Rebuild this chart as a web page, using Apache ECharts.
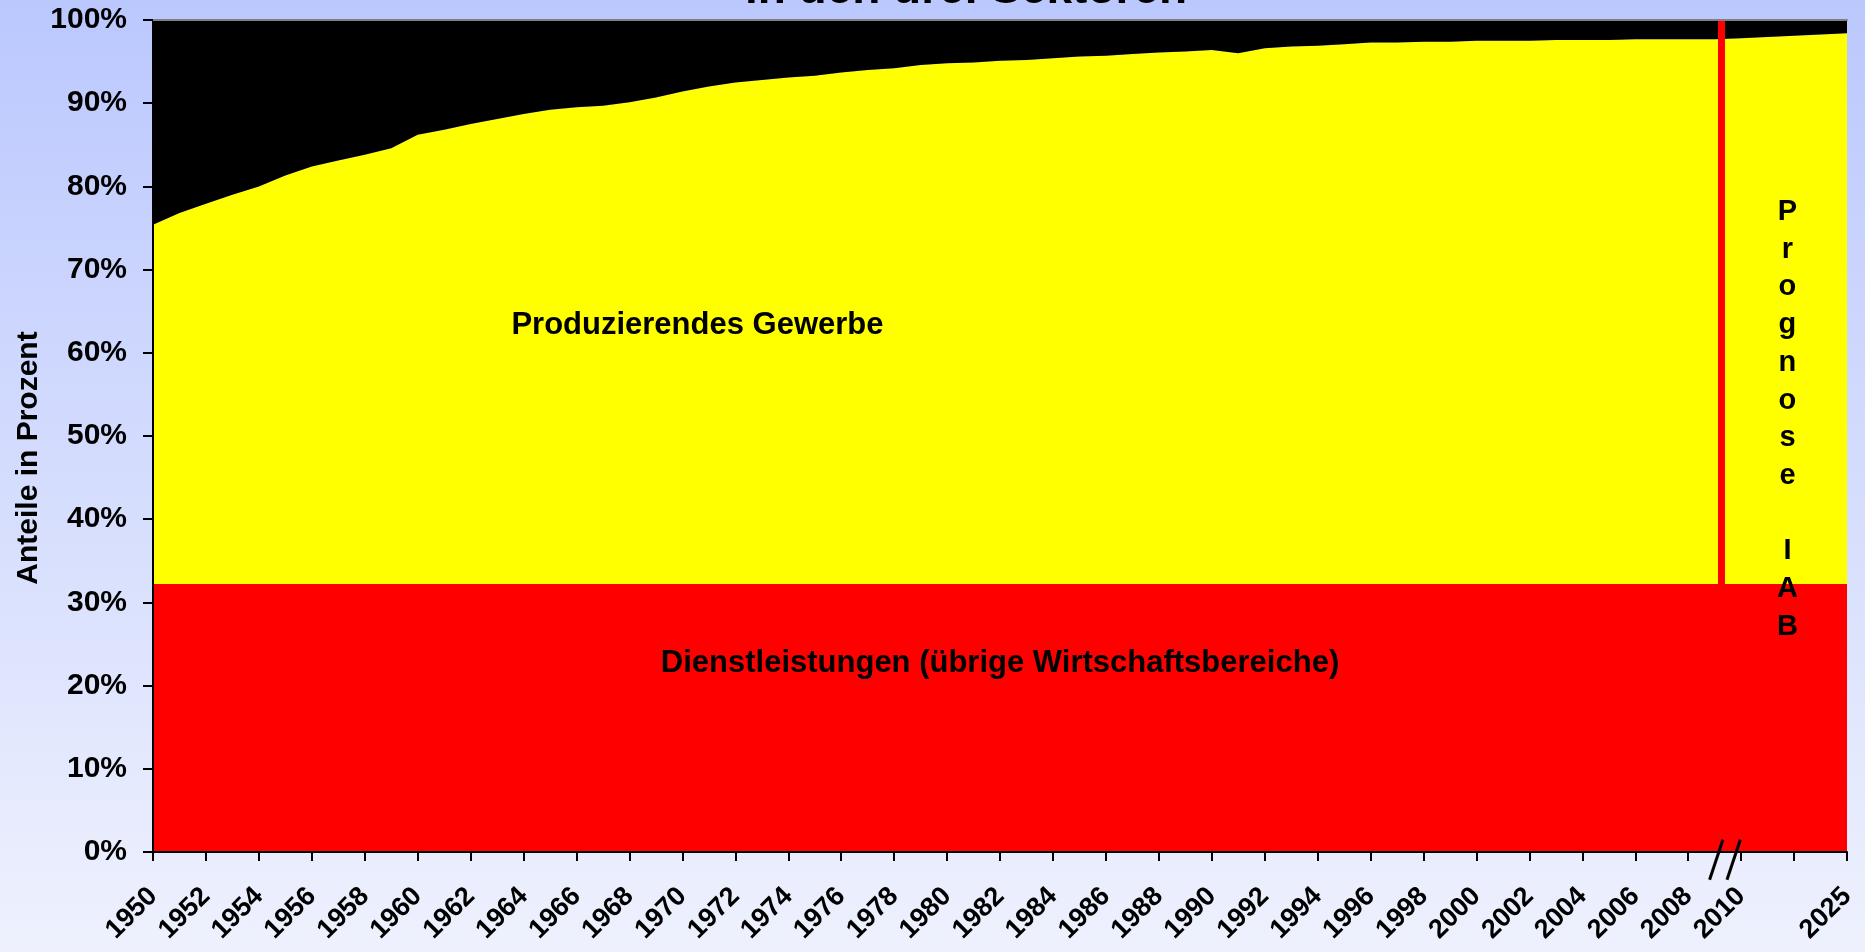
<!DOCTYPE html>
<html>
<head>
<meta charset="utf-8">
<title>Erwerbstätige in den drei Sektoren</title>
<script src="https://cdn.jsdelivr.net/npm/echarts@6/dist/echarts.min.js"></script>
<style>
  html, body { margin: 0; padding: 0; }
  #chart {
    width: 1865px;
    height: 952px;
    background: linear-gradient(to bottom, #bbc8fe 0%, #eef1fd 100%);
  }
</style>
</head>
<body>
<div id="chart"></div>
<script>
// Rubriken der x-Achse (zwischen 2010 und der Prognose 2025 leer)
const rubriken = [
  '1950', '1951', '1952', '1953', '1954', '1955', '1956', '1957', '1958', '1959',
  '1960', '1961', '1962', '1963', '1964', '1965', '1966', '1967', '1968', '1969',
  '1970', '1971', '1972', '1973', '1974', '1975', '1976', '1977', '1978', '1979',
  '1980', '1981', '1982', '1983', '1984', '1985', '1986', '1987', '1988', '1989',
  '1990', '1991', '1992', '1993', '1994', '1995', '1996', '1997', '1998', '1999',
  '2000', '2001', '2002', '2003', '2004', '2005', '2006', '2007', '2008', '2009',
  '2010', '', '', '', '2025',
]

// Jahre mit Werten
const jahre = [
  '1950', '1951', '1952', '1953', '1954', '1955', '1956', '1957', '1958', '1959',
  '1960', '1961', '1962', '1963', '1964', '1965', '1966', '1967', '1968', '1969',
  '1970', '1971', '1972', '1973', '1974', '1975', '1976', '1977', '1978', '1979',
  '1980', '1981', '1982', '1983', '1984', '1985', '1986', '1987', '1988', '1989',
  '1990', '1991', '1992', '1993', '1994', '1995', '1996', '1997', '1998', '1999',
  '2000', '2001', '2002', '2003', '2004', '2005', '2006', '2007', '2008', '2009',
  '2010', '2025',
]

// Anteile in Prozent
const dienstleistungen = [
  32.2, 32.2, 32.2, 32.2, 32.2, 32.2, 32.2, 32.2, 32.2, 32.2,
  32.2, 32.2, 32.2, 32.2, 32.2, 32.2, 32.2, 32.2, 32.2, 32.2,
  32.2, 32.2, 32.2, 32.2, 32.2, 32.2, 32.2, 32.2, 32.2, 32.2,
  32.2, 32.2, 32.2, 32.2, 32.2, 32.2, 32.2, 32.2, 32.2, 32.2,
  32.2, 32.2, 32.2, 32.2, 32.2, 32.2, 32.2, 32.2, 32.2, 32.2,
  32.2, 32.2, 32.2, 32.2, 32.2, 32.2, 32.2, 32.2, 32.2, 32.2,
  32.2, 32.2,
]
const produzierend = [
  43.2, 44.6, 45.7, 46.8, 47.8, 49.1, 50.2, 50.9, 51.6, 52.4,
  54.0, 54.6, 55.3, 55.9, 56.5, 57.0, 57.3, 57.5, 57.9, 58.5,
  59.2, 59.8, 60.3, 60.6, 60.9, 61.1, 61.5, 61.8, 62.0, 62.4,
  62.6, 62.7, 62.9, 63.0, 63.2, 63.4, 63.5, 63.7, 63.9, 64.0,
  64.2, 63.8, 64.4, 64.6, 64.7, 64.9, 65.1, 65.1, 65.2, 65.2,
  65.3, 65.3, 65.3, 65.4, 65.4, 65.4, 65.5, 65.5, 65.5, 65.5,
  65.6, 66.2,
]
const landwirtschaft = [
  24.6, 23.2, 22.1, 21.0, 20.0, 18.7, 17.6, 16.9, 16.2, 15.4,
  13.8, 13.2, 12.5, 11.9, 11.3, 10.8, 10.5, 10.3, 9.9, 9.3,
  8.6, 8.0, 7.5, 7.2, 6.9, 6.7, 6.3, 6.0, 5.8, 5.4,
  5.2, 5.1, 4.9, 4.8, 4.6, 4.4, 4.3, 4.1, 3.9, 3.8,
  3.6, 4.0, 3.4, 3.2, 3.1, 2.9, 2.7, 2.7, 2.6, 2.6,
  2.5, 2.5, 2.5, 2.4, 2.4, 2.4, 2.3, 2.3, 2.3, 2.3,
  2.2, 1.6,
]

const FONT = '"Liberation Sans", Arial, sans-serif'

// Wert -> [Rubrik, Anteil]
const _punkte = function (werte) {
  return werte.map((v, i) => [rubriken.indexOf(jahre[i]), v])
}

const _area = function (name, werte, color) {
  return {
    name: name,
    type: 'line',
    stack: 'anteile',
    data: _punkte(werte),
    showSymbol: false,
    symbol: 'none',
    silent: true,
    lineStyle: { width: 0 },
    areaStyle: { color: color, opacity: 1 },
  }
}

const chart = echarts.init(document.getElementById('chart'))

const option = {
  animation: false,
  backgroundColor: 'transparent',
  textStyle: { fontFamily: FONT },
  grid: { left: 153, right: 18, top: 20, bottom: 100, outerBoundsMode: 'none', containLabel: false },
  xAxis: [
    {
      type: 'category',
      data: rubriken,
      boundaryGap: false,
      z: 5,
      axisLine: { lineStyle: { color: '#000', width: 2 } },
      axisTick: { interval: 1, length: 9, lineStyle: { color: '#000', width: 2 } },
      axisLabel: {
        interval: 1,
        rotate: 45,
        margin: 40,
        color: '#000',
        fontSize: 27,
        fontWeight: 'bold',
        fontFamily: FONT,
      },
      splitLine: { show: false },
    },
    {
      // Hilfsachse fuer Markierungen zwischen den Rubriken und die graue Linie oben
      type: 'value',
      position: 'top',
      min: 0,
      max: rubriken.length - 1,
      z: 5,
      axisLine: { show: true, onZero: false, lineStyle: { color: '#808080', width: 2 } },
      axisTick: { show: false },
      axisLabel: { show: false },
      splitLine: { show: false },
    },
  ],
  yAxis: {
    type: 'value',
    min: 0,
    max: 100,
    interval: 10,
    z: 5,
    axisLine: { show: true, lineStyle: { color: '#000', width: 2 } },
    axisTick: { show: true, length: 10, lineStyle: { color: '#000', width: 2 } },
    axisLabel: {
      formatter: '{value}%',
      margin: 26,
      color: '#000',
      fontSize: 30,
      fontWeight: 'bold',
      fontFamily: FONT,
    },
    splitLine: { show: false },
  },
  graphic: [
    {
      id: 'titel',
      type: 'text',
      x: 966,
      y: 13,
      silent: true,
      style: {
        text: 'in den drei Sektoren',
        font: 'bold 46px ' + FONT,
        fill: '#000',
        textAlign: 'center',
        textVerticalAlign: 'bottom',
      },
    },
    {
      id: 'yname',
      type: 'text',
      x: 29,
      y: 458,
      rotation: Math.PI / 2,
      silent: true,
      style: {
        text: 'Anteile in Prozent',
        font: 'bold 30px ' + FONT,
        fill: '#000',
        textAlign: 'center',
        textVerticalAlign: 'middle',
      },
    },
  ],
  series: [
    _area('Dienstleistungen (übrige Wirtschaftsbereiche)', dienstleistungen, '#ff0000'),
    _area('Produzierendes Gewerbe', produzierend, '#ffff00'),
    _area('Land- und Forstwirtschaft', landwirtschaft, '#000000'),
    {
      name: 'Markierungen',
      type: 'line',
      xAxisIndex: 1,
      data: [],
      z: 3,
      silent: true,
      markLine: {
        silent: true,
        symbol: 'none',
        label: { show: false },
        lineStyle: { color: '#ff0000', width: 7, type: 'solid' },
        data: [{ xAxis: 59.25 }],
      },
      markPoint: {
        silent: true,
        symbol: 'circle',
        symbolSize: 0,
        label: {
          show: true,
          position: 'inside',
          color: '#000',
          fontSize: 31,
          fontWeight: 'bold',
          fontFamily: FONT,
        },
        data: [
          { coord: [20.57, 63.3], label: { formatter: 'Produzierendes Gewerbe' } },
          { coord: [32.0, 22.7], label: { formatter: 'Dienstleistungen (übrige Wirtschaftsbereiche)' } },
          {
            coord: [61.75, 52.0],
            label: { formatter: 'P\nr\no\ng\nn\no\ns\ne\n\nI\nA\nB', fontSize: 29, lineHeight: 37.7 },
          },
        ],
      },
    },
  ],
}

chart.setOption(option)

// Achsenbruch "//" zwischen 2009 und 2010
const bx = chart.convertToPixel({ xAxisIndex: 1 }, 59.3)
const by = chart.convertToPixel({ yAxisIndex: 0 }, 0)
const _bruch = function (id, dx) {
  return {
    id: id,
    type: 'line',
    silent: true,
    z: 10,
    shape: { x1: bx + dx + 0.3, y1: by - 12.3, x2: bx + dx - 13, y2: by + 27.7 },
    style: { stroke: '#000', lineWidth: 3 },
  }
}
chart.setOption({ graphic: [_bruch('bruch1', 0), _bruch('bruch2', 17.4)] })
</script>
</body>
</html>
